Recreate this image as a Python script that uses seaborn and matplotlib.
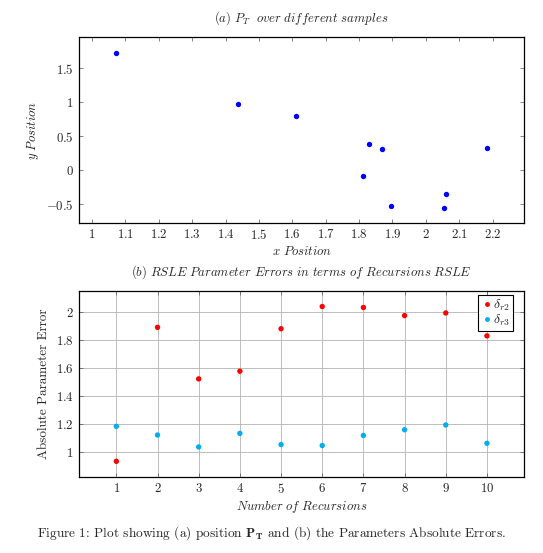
import numpy as np
import pandas as pd
import seaborn as sns
import matplotlib.pyplot as plt
from matplotlib.ticker import FuncFormatter, MultipleLocator

sns.set_style("ticks")
plt.rcParams['mathtext.fontset'] = 'cm'
plt.rcParams['font.family'] = ['cmr10', 'DejaVu Serif']
plt.rcParams['axes.unicode_minus'] = False

# (a) positions P_T
pos_x = [1.073, 1.437, 1.612, 1.813, 1.829, 1.870, 1.895, 2.055, 2.061, 2.183]
pos_y = [1.72, 0.97, 0.80, -0.083, 0.383, 0.31, -0.53, -0.55, -0.35, 0.334]

# (b) RSLE parameter errors
recursions = [1, 2, 3, 4, 5, 6, 7, 8, 9, 10]
delta_r2 = [0.933, 1.892, 1.523, 1.578, 1.882, 2.041, 2.034, 1.976, 1.995, 1.831]
delta_r3 = [1.183, 1.121, 1.036, 1.133, 1.053, 1.046, 1.118, 1.159, 1.193, 1.062]

df_pos = pd.DataFrame({'x': pos_x, 'y': pos_y})
df_err = pd.DataFrame({
    'rec': recursions * 2,
    'err': delta_r2 + delta_r3,
    'param': [r'$\delta_{r2}$'] * 10 + [r'$\delta_{r3}$'] * 10,
})

fs = 9.2
fmt = FuncFormatter(lambda v, p: r'$%g$' % round(v, 3))

fig = plt.figure(figsize=(5.43, 5.53), dpi=100)
ax1 = fig.add_axes([0.146, 0.597, 0.819, 0.336])
ax2 = fig.add_axes([0.146, 0.138, 0.819, 0.336])

# --- top: positions
sns.scatterplot(data=df_pos, x='x', y='y', ax=ax1, color='#0000ff',
                s=15, linewidth=0, zorder=3)
ax1.set_xlim(0.962, 2.294)
ax1.set_ylim(-0.775, 1.96)
ax1.xaxis.set_major_locator(MultipleLocator(0.1))
ax1.yaxis.set_major_locator(MultipleLocator(0.5))
ax1.set_title(r'$(a)\ P_T\ \ over\ different\ samples$', fontsize=fs, pad=11)
ax1.set_xlabel(r'$x\ Position$', fontsize=fs, labelpad=2)
ax1.set_ylabel(r'$y\ Position$', fontsize=fs, labelpad=4)

# --- bottom: errors
sns.scatterplot(data=df_err, x='rec', y='err', hue='param', ax=ax2,
                palette=['#ff0000', '#00aeef'], s=15, linewidth=0, zorder=3)
ax2.set_xlim(0.1, 10.9)
ax2.set_ylim(0.823, 2.153)
ax2.xaxis.set_major_locator(MultipleLocator(1))
ax2.yaxis.set_major_locator(MultipleLocator(0.2))
ax2.grid(True, color='#b3b3b3', linewidth=0.6, zorder=0)
ax2.set_axisbelow(True)
ax2.set_title(r'$(b)\ RSLE\ Parameter\ Errors\ in\ terms\ of\ Recursions\ RSLE$',
              fontsize=fs, pad=11)
ax2.set_xlabel(r'$Number\ of\ Recursions$', fontsize=fs, labelpad=2)
ax2.set_ylabel('Absolute Parameter Error', fontsize=9.5, labelpad=4)
leg = ax2.legend(loc='upper right', bbox_to_anchor=(0.975, 0.98),
                 fontsize=10, frameon=True, fancybox=False,
                 edgecolor='black', framealpha=1, borderpad=0.2,
                 handletextpad=0.0, handlelength=0.9, labelspacing=0.0,
                 borderaxespad=0.0, markerscale=0.9)
leg.get_frame().set_linewidth(0.8)

for ax in (ax1, ax2):
    ax.xaxis.set_major_formatter(fmt)
    ax.yaxis.set_major_formatter(fmt)
    ax.tick_params(direction='in', top=True, right=True, length=3,
                   width=0.5, labelsize=fs, color='#555555', pad=4)
    for sp in ax.spines.values():
        sp.set_visible(True)
        sp.set_linewidth(0.9)
        sp.set_color('black')

fig.text(0.5, 0.036,
         r'Figure 1: Plot showing (a) position $\mathbf{P}_\mathbf{T}$ and (b) the Parameters Absolute Errors.',
         ha='center', va='center', fontsize=9.6)

fig.savefig('out.png', dpi=100)
